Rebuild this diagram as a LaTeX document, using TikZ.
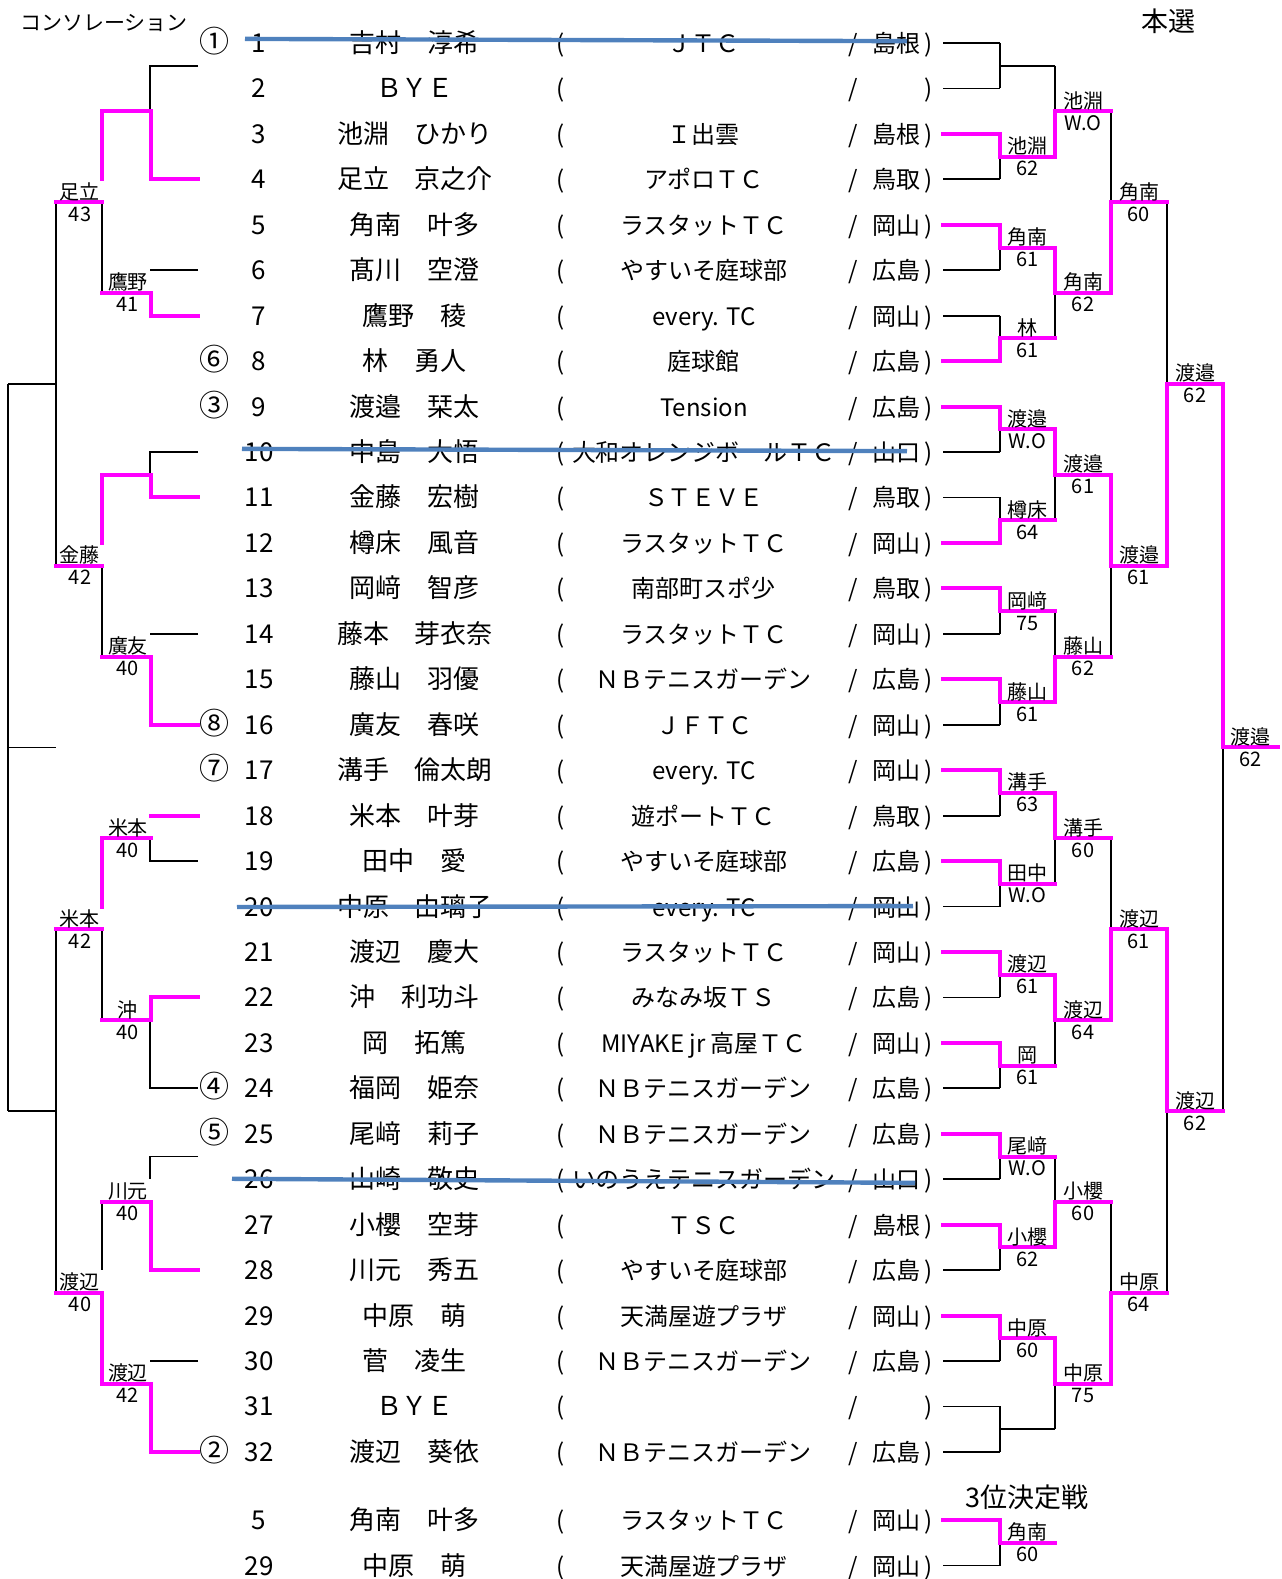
\documentclass[tikz,border=0pt]{standalone}
\usepackage{fontspec}
\setmainfont{Noto Sans CJK JP}
\usepackage{tikz}
\definecolor{wincol}{RGB}{255,0,255}
\definecolor{cutcol}{RGB}{79,129,189}
\tikzset{
  ln/.style={line width=0.9pt},
  win/.style={line width=2pt, draw=wincol, line cap=rect, line join=miter},
  cut/.style={line width=2.2pt, draw=cutcol},
  row/.style={inner sep=0pt, text height=10pt, text depth=0.5pt, font=\fontsize{13}{15}\selectfont},
  club/.style={row, font=\fontsize{12}{14}\selectfont},
  seed/.style={row, font=\fontsize{15}{17}\selectfont},
  lbl/.style={inner sep=0pt, anchor=base, font=\fontsize{10}{11}\selectfont},
}
\begin{document}
\begin{tikzpicture}[x=0.5pt, y=-22.725pt]
\useasboundingbox (0,0.054) rectangle (1282,34.796);

\node[row, font=\fontsize{13.5}{15}\selectfont] (main) at (1168,0.54) {本選};
\node[row, font=\fontsize{10.5}{12}\selectfont] (conso) at (104,0.52) {コンソレーション};
\node[row, font=\fontsize{13.5}{15}\selectfont] (third) at (1027,33.01) {3位決定戦};

% entries
\foreach \y/\n/\sd/\nm/\cl/\pf in {
 1/1/①/吉村　淳希/ＪＴＣ/島根,
 2/2//ＢＹＥ//,
 3/3//池淵　ひかり/Ｉ出雲/島根,
 4/4//足立　京之介/アポロＴＣ/鳥取,
 5/5//角南　叶多/ラスタットＴＣ/岡山,
 6/6//髙川　空澄/やすいそ庭球部/広島,
 7/7//鷹野　稜/every. TC/岡山,
 8/8/⑥/林　勇人/庭球館/広島,
 9/9/③/渡邉　栞太/Tension/広島,
 10/10//中島　大悟/大和オレンジボールＴＣ/山口,
 11/11//金藤　宏樹/ＳＴＥＶＥ/鳥取,
 12/12//樽床　風音/ラスタットＴＣ/岡山,
 13/13//岡﨑　智彦/南部町スポ少/鳥取,
 14/14//藤本　芽衣奈/ラスタットＴＣ/岡山,
 15/15//藤山　羽優/ＮＢテニスガーデン/広島,
 16/16/⑧/廣友　春咲/ＪＦＴＣ/岡山,
 17/17/⑦/溝手　倫太朗/every. TC/岡山,
 18/18//米本　叶芽/遊ポートＴＣ/鳥取,
 19/19//田中　愛/やすいそ庭球部/広島,
 20/20//中原　由璃子/every. TC/岡山,
 21/21//渡辺　慶大/ラスタットＴＣ/岡山,
 22/22//沖　利功斗/みなみ坂ＴＳ/広島,
 23/23//岡　拓篤/MIYAKE jr 高屋ＴＣ/岡山,
 24/24/④/福岡　姫奈/ＮＢテニスガーデン/広島,
 25/25/⑤/尾﨑　莉子/ＮＢテニスガーデン/広島,
 26/26//山崎　敬史/いのうえテニスガーデン/山口,
 27/27//小櫻　空芽/ＴＳＣ/島根,
 28/28//川元　秀五/やすいそ庭球部/広島,
 29/29//中原　萌/天満屋遊プラザ/岡山,
 30/30//菅　凌生/ＮＢテニスガーデン/広島,
 31/31//ＢＹＥ//,
 32/32/②/渡辺　葵依/ＮＢテニスガーデン/広島,
 33.5/5//角南　叶多/ラスタットＴＣ/岡山,
 34.5/29//中原　萌/天満屋遊プラザ/岡山}{
  \node[seed] at (214,\y) {\sd};
  \node[row] at (259,\y) {\n};
  \node[row] at (415,\y) {\nm};
  \node[club] at (561,\y) {(};
  \node[club] at (704,\y) {\cl};
  \node[club] at (853,\y) {/};
  \node[club] at (896,\y) {\pf};
  \node[club] at (929,\y) {)};
}

% main draw
\foreach \k in {1,...,32} \draw[ln] (943,\k) -- (1000,\k);
\foreach \i in {1,...,16} \draw[ln] (1000,{2*\i-1}) -- (1000,{2*\i}) (1000,{2*\i-0.5}) -- (1055,{2*\i-0.5});
\foreach \j in {1,...,8} \draw[ln] (1055,{4*\j-2.5}) -- (1055,{4*\j-0.5}) (1055,{4*\j-1.5}) -- (1111,{4*\j-1.5});
\foreach \q in {1,...,4} \draw[ln] (1111,{8*\q-5.5}) -- (1111,{8*\q-1.5}) (1111,{8*\q-3.5}) -- (1167,{8*\q-3.5});
\foreach \s in {1,2} \draw[ln] (1167,{16*\s-11.5}) -- (1167,{16*\s-3.5}) (1167,{16*\s-7.5}) -- (1223,{16*\s-7.5});
\draw[ln] (1223,8.5) -- (1223,24.5) (1223,16.5) -- (1278,16.5);
\draw[ln] (943,34.5) -- (1000,34.5) -- (1000,34);

\foreach \w/\o/\nm/\sc in {3/3.5/池淵/62, 5/5.5/角南/61, 8/7.5/林/61, 9/9.5/渡邉/W.O,
  12/11.5/樽床/64, 13/13.5/岡﨑/75, 15/15.5/藤山/61, 17/17.5/溝手/63, 19/19.5/田中/W.O,
  21/21.5/渡辺/61, 23/23.5/岡/61, 25/25.5/尾﨑/W.O, 27/27.5/小櫻/62, 29/29.5/中原/60,
  33.5/34/角南/60}{
  \draw[win] (943,\w) -- (1000,\w) -- (1000,\o) -- (1055,\o);
  \node[lbl] at (1027.5,{\o-0.066}) {\nm};
  \node[lbl] at (1027.5,{\o+0.418}) {\sc};
}

\foreach \xa/\xb/\yi/\yo/\nm/\sc in {1055/1111/3.5/2.5/池淵/W.O, 1055/1111/5.5/6.5/角南/62,
  1055/1111/9.5/10.5/渡邉/61, 1055/1111/15.5/14.5/藤山/62, 1055/1111/17.5/18.5/溝手/60,
  1055/1111/21.5/22.5/渡辺/64, 1055/1111/27.5/26.5/小櫻/60, 1055/1111/29.5/30.5/中原/75,
  1111/1167/6.5/4.5/角南/60, 1111/1167/10.5/12.5/渡邉/61, 1111/1167/22.5/20.5/渡辺/61,
  1111/1167/30.5/28.5/中原/64, 1167/1223/12.5/8.5/渡邉/62, 1167/1223/20.5/24.5/渡辺/62,
  1223/1278/8.5/16.5/渡邉/62}{
  \draw[win] (\xa,\yi) -- (\xa,\yo) -- (\xb,\yo);
  \node[lbl] at ({(\xa+\xb)/2},{\yo-0.066}) {\nm};
  \node[lbl] at ({(\xa+\xb)/2},{\yo+0.418}) {\sc};
}

% consolation
\draw[ln] (198,1.5) -- (150,1.5) -- (150,2.5);
\draw[ln] (198,6) -- (150,6);
\draw[ln] (102,4.5) -- (102,6.5);
\draw[ln] (198,10) -- (150,10) -- (150,10.5);
\draw[ln] (198,14) -- (150,14);
\draw[ln] (102,12.5) -- (102,14.5);
\draw[ln] (150,18.5) -- (150,19) -- (198,19);
\draw[ln] (150,22.5) -- (150,24) -- (198,24);
\draw[ln] (102,20.5) -- (102,22.5);
\draw[ln] (198,25.5) -- (150,25.5) -- (150,26);
\draw[ln] (102,26.5) -- (102,28);
\draw[ln] (198,30) -- (150,30);
\draw[ln] (56,4.5) -- (56,12.5) (56,8.5) -- (8,8.5);
\draw[ln] (56,20.5) -- (56,28.5) (56,24.5) -- (8,24.5);
\draw[ln] (8,8.5) -- (8,24.5) (8,16.5) -- (56,16.5);

\draw[win] (198,4) -- (151,4) -- (151,2.5) -- (102,2.5) -- (102,4);
\draw[win] (198,7) -- (151,7) -- (151,6.5) -- (102,6.5);
\draw[win] (56,4.5) -- (102,4.5);
\draw[win] (198,11) -- (151,11) -- (151,10.5) -- (102,10.5) -- (102,12);
\draw[win] (198,16) -- (151,16) -- (151,14.5) -- (102,14.5);
\draw[win] (56,12.5) -- (102,12.5);
\draw[win] (198,18) -- (151,18);
\draw[win] (151,18.5) -- (102,18.5) -- (102,20);
\draw[win] (198,22) -- (151,22) -- (151,22.5) -- (102,22.5);
\draw[win] (56,20.5) -- (102,20.5);
\draw[win] (198,28) -- (151,28) -- (151,26.5) -- (102,26.5);
\draw[win] (56,28.5) -- (102,28.5) -- (102,30.5) -- (151,30.5) -- (151,32) -- (198,32);

\foreach \x/\y/\nm/\sc in {80/4.5/足立/43, 128/6.5/鷹野/41, 80/12.5/金藤/42, 128/14.5/廣友/40,
  128/18.5/米本/40, 80/20.5/米本/42, 128/22.5/沖/40, 128/26.5/川元/40, 80/28.5/渡辺/40,
  128/30.5/渡辺/42}{
  \node[lbl] at (\x,{\y-0.066}) {\nm};
  \node[lbl] at (\x,{\y+0.418}) {\sc};
}

% withdrawn
\draw[cut] (245,0.91) -- (907,0.96);
\draw[cut] (242,9.93) -- (907,9.98);
\draw[cut] (237,20.01) -- (913,19.99);
\draw[cut] (232,25.99) -- (915,26.08);
\end{tikzpicture}
\end{document}
